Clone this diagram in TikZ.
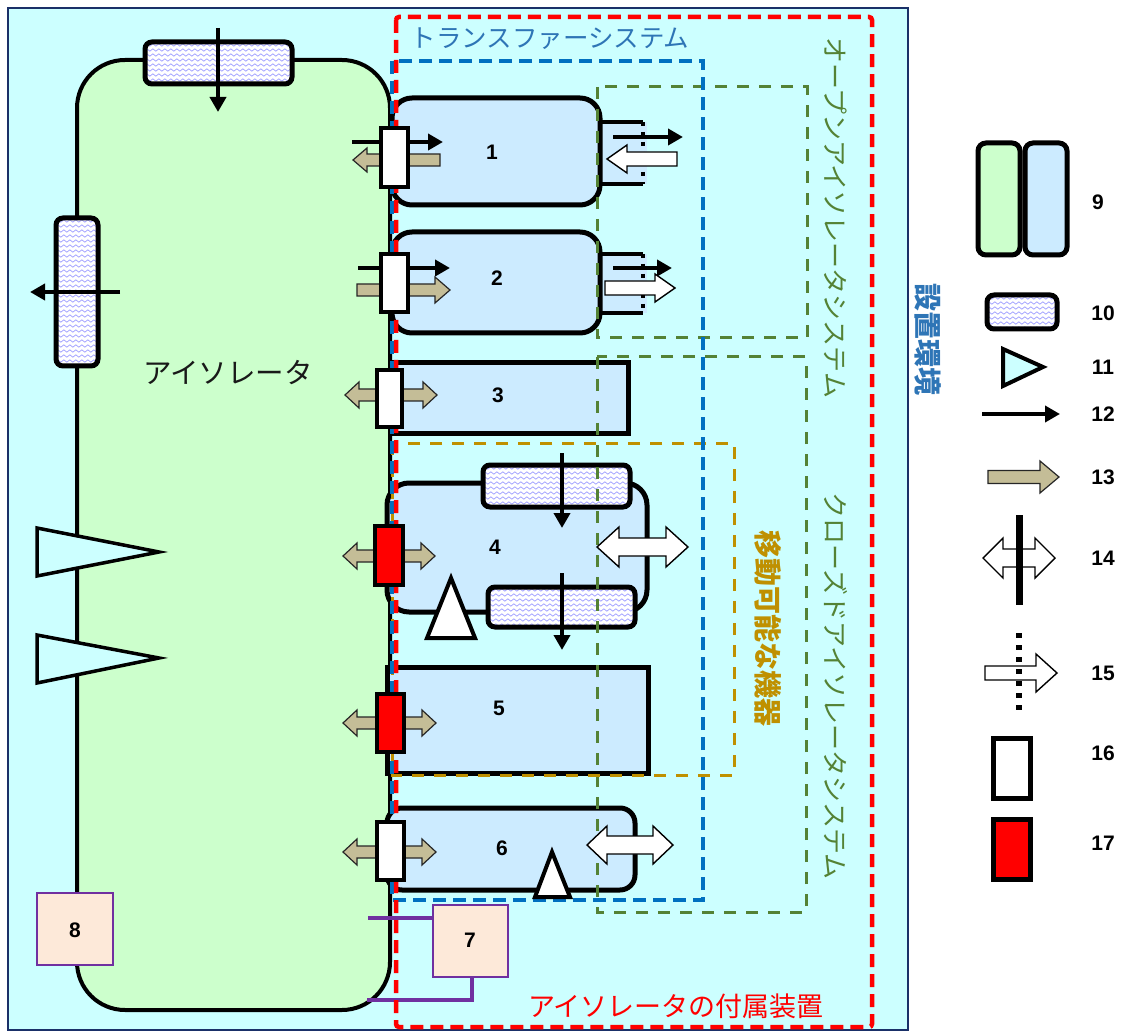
\documentclass[tikz,border=0pt]{standalone}
\usepackage{fontspec}
\setmainfont{Liberation Sans}
\newfontfamily\jp{Noto Sans CJK JP}
\usetikzlibrary{arrows.meta,decorations.pathmorphing}
\definecolor{bgcyan}{HTML}{CCFFFF}
\definecolor{isogreen}{HTML}{CCFFCC}
\definecolor{chblue}{HTML}{CCEBFF}
\definecolor{navyc}{HTML}{1A3068}
\definecolor{dblue}{HTML}{0070C0}
\definecolor{tblue}{HTML}{2E75B6}
\definecolor{dgreen}{HTML}{548235}
\definecolor{goldc}{HTML}{BF9000}
\definecolor{tanc}{HTML}{C4BD97}
\definecolor{purp}{HTML}{7030A0}
\definecolor{peach}{HTML}{FDE9D9}

\tikzset{
  chamber/.style={draw=black, line width=5, fill=chblue},
  doorw/.style={draw=black, line width=4, fill=white},
  doorr/.style={draw=black, line width=4, fill=red},
  blk/.style={draw=black, line width=4, -{Triangle[length=15,width=16]}},
  tanarr/.style={fill=tanc, draw=black!85, line width=1.2},
  whitearr/.style={fill=white, draw=black, line width=1.4},
  wave/.style={draw=blue!45, line width=0.6, decorate, decoration={snake, amplitude=1.2, segment length=6}},
  filtbox/.style={draw=black, line width=5, rounded corners=7},
  tri/.style={draw=black, line width=4, fill=white, line join=miter},
  aux/.style={draw=purp, line width=1.5, fill=peach},
  auxline/.style={draw=purp, line width=3.5},
  reddash/.style={draw=red, line width=4.5, dash pattern=on 13 off 7},
  bluedash/.style={draw=dblue, line width=4.5, dash pattern=on 13 off 7},
  greendash/.style={draw=dgreen, line width=3, dash pattern=on 12 off 10},
  golddash/.style={draw=goldc, line width=3, dash pattern=on 12 off 10},
  num/.style={font=\fontsize{21}{21}\selectfont\bfseries},
  jptext/.style={font=\jp\fontsize{#1}{#1}\selectfont, inner sep=0},
}

\newcommand\BlockArr[7]{%
  \pgfmathsetmacro\bad{(#3>#2)?1:-1}%
  \pgfmathsetmacro\bahx{#3-\bad*#7}%
  \draw[#1] (#2,#4-#5) -- (\bahx,#4-#5) -- (\bahx,#4-#6) -- (#3,#4) -- (\bahx,#4+#6) -- (\bahx,#4+#5) -- (#2,#4+#5) -- cycle;}
\newcommand\DblArr[7]{%
  \draw[#1] (#2,#4) -- (#2+#7,#4-#6) -- (#2+#7,#4-#5) -- (#3-#7,#4-#5) -- (#3-#7,#4-#6) -- (#3,#4) -- (#3-#7,#4+#6) -- (#3-#7,#4+#5) -- (#2+#7,#4+#5) -- (#2+#7,#4+#6) -- cycle;}
\newcommand\FiltBox[4]{%
  \begin{scope}
    \clip[rounded corners=7] (#1,#2) rectangle (#3,#4);
    \fill[white] (#1,#2) rectangle (#3,#4);
    \pgfmathtruncatemacro\fbn{(#4-#2)/5}%
    \foreach \k in {0,...,\fbn}{\draw[wave] (#1-6,#2+3+5*\k) -- (#3+6,#2+3+5*\k);}
  \end{scope}
  \draw[filtbox] (#1,#2) rectangle (#3,#4);}

\begin{document}
\begin{tikzpicture}[x=1pt,y=-1pt]
\useasboundingbox (0,0) rectangle (1128,1032);
\fill[white] (0,0) rectangle (1128,1032);
% installation environment
\draw[draw=navyc, line width=2.5, fill=bgcyan] (8,8) rectangle (908,1030);

% isolator
\draw[line width=4, fill=isogreen, rounded corners=48] (77,60) rectangle (390,1010);
\FiltBox{145}{42}{292}{84}
\coordinate (ft1) at (218,28); \coordinate (ft2) at (218,112);
\draw[blk] (ft1) -- (ft2);
\FiltBox{56}{218}{98}{366}
\coordinate (fl1) at (120,292); \coordinate (fl2) at (30,292);
\draw[blk] (fl1) -- (fl2);
\draw[tri, fill=bgcyan, line width=3.5] (37,528) -- (159,552) -- (37,576) -- cycle;
\draw[tri, fill=bgcyan, line width=3.5] (37,635) -- (159,658) -- (37,683) -- cycle;
\draw[aux] (37,893) rectangle (113,965);
\node[num] (n8) at (75,930) {8};
\node[jptext=28.5, text=black!90] (iso) at (228,373) {アイソレータ};

% chambers
\fill[chblue] (596,122) rectangle (647,184);
\draw[chamber, rounded corners=20] (392,98) rectangle (600,205);
\draw[line width=4] (600,122) -- (643,122);
\draw[line width=4] (600,184) -- (643,184);
\fill[chblue] (596,254) rectangle (647,313);
\draw[chamber, rounded corners=20] (392,232) rectangle (600,333);
\draw[line width=4] (600,254) -- (643,254);
\draw[line width=4] (600,313) -- (643,313);
\draw[chamber] (392,363) rectangle (628,434);
\draw[chamber, rounded corners=22] (387,483) rectangle (647,612);
\FiltBox{483}{465}{630}{507}
\FiltBox{488}{587}{635}{627}
\draw[chamber] (387,667) rectangle (648,773);
\draw[chamber, rounded corners=15] (387,808) rectangle (635,890);

% accessory 7
\draw[auxline] (368,918) -- (433,918);
\draw[auxline] (472,977) -- (472,1000) -- (367,1000);
\draw[aux] (433,905) rectangle (508,977);
\node[num] (n7) at (470,940) {7};

% dashed system boundaries
\draw[greendash] (597,87) rectangle (807,338);
\draw[greendash] (597,357) rectangle (806,912);
\draw[golddash] (392,443) rectangle (734,775);
\draw[bluedash] (392,61) rectangle (703,900);
\draw[reddash, rounded corners=3] (396,17) rectangle (872,1027);

% port dotted edges
\draw[line width=4, dash pattern=on 4 off 6] (643,122) -- (643,184);
\draw[line width=4, dash pattern=on 4 off 6] (643,254) -- (643,313);

% arrows chamber 1
\coordinate (a1s) at (352,142); \coordinate (a1e) at (443,142);
\draw[blk] (a1s) -- (a1e);
\BlockArr{tanarr}{440}{353}{160}{6}{12}{14}
\coordinate (p1s) at (613,137); \coordinate (p1e) at (683,137);
\draw[blk] (p1s) -- (p1e);
\BlockArr{whitearr}{677}{607}{159}{7}{14}{20}
% arrows chamber 2
\coordinate (a2s) at (358,268); \coordinate (a2e) at (450,268);
\draw[blk] (a2s) -- (a2e);
\BlockArr{tanarr}{357}{450}{290}{6}{13}{15}
\coordinate (p2s) at (613,268); \coordinate (p2e) at (672,268);
\draw[blk] (p2s) -- (p2e);
\BlockArr{whitearr}{605}{675}{288}{7}{14}{20}
% chamber 3
\DblArr{tanarr}{345}{437}{395}{6}{13}{14}
% chamber 4
\DblArr{tanarr}{343}{435}{556}{6}{13}{14}
\DblArr{whitearr}{597}{688}{547}{9}{20}{22}
\coordinate (f4a) at (562,453); \coordinate (f4b) at (562,528);
\draw[blk] (f4a) -- (f4b);
\coordinate (f4c) at (562,573); \coordinate (f4d) at (562,650);
\draw[blk] (f4c) -- (f4d);
% chamber 5
\DblArr{tanarr}{343}{436}{723}{6}{13}{14}
% chamber 6
\DblArr{tanarr}{343}{436}{852}{6}{13}{14}
\DblArr{whitearr}{587}{673}{845}{9}{19}{20}

% doors
\draw[doorw] (381,128) rectangle (408,187);
\draw[doorw] (381,254) rectangle (408,312);
\draw[doorw] (377,370) rectangle (402,427);
\draw[doorr] (375,526) rectangle (403,585);
\draw[doorr] (377,694) rectangle (404,752);
\draw[doorw] (377,822) rectangle (404,880);

% triangles in chambers
\draw[tri] (427,638) -- (451,578) -- (475,638) -- cycle;
\draw[tri] (535,897) -- (552,852) -- (570,897) -- cycle;

% chamber labels
\node[num] (n1) at (492,152) {1};
\node[num] (n2) at (497,278) {2};
\node[num] (n3) at (498,395) {3};
\node[num] (n4) at (495,547) {4};
\node[num] (n5) at (499,708) {5};
\node[num] (n6) at (502,848) {6};

% texts
\node[jptext=25.5, text=tblue] (trans) at (550,39) {トランスファーシステム};
\node[jptext=26, text=dgreen, rotate=-90] (open) at (836,218) {オープンアイソレータシステム};
\node[jptext=26, text=dgreen, rotate=-90] (closed) at (836,686) {クローズドアイソレータシステム};
\node[jptext=28, text=goldc, rotate=-90, font=\jp\fontsize{28}{28}\selectfont\bfseries] (mob) at (768,628) {移動可能な機器};
\node[jptext=28, text=tblue, rotate=-90, font=\jp\fontsize{28}{28}\selectfont\bfseries] (env) at (928,340) {設置環境};
\node[jptext=27, text=red] (acc) at (676,1006) {アイソレータの付属装置};

% legend
\draw[line width=5, fill=isogreen, rounded corners=8] (978,143) rectangle (1020,255);
\draw[line width=5, fill=chblue, rounded corners=8] (1025,143) rectangle (1067,255);
\node[num] (l9) at (1098,202) {9};
\FiltBox{987}{295}{1057}{329}
\node[num] (l10) at (1103,313) {10};
\draw[tri, fill=bgcyan] (1003,349) -- (1043,367) -- (1003,386) -- cycle;
\node[num] (l11) at (1103,367) {11};
\coordinate (l12a) at (982,414); \coordinate (l12b) at (1060,414);
\draw[blk] (l12a) -- (l12b);
\node[num] (l12) at (1103,414) {12};
\BlockArr{tanarr}{988}{1059}{477}{6.5}{16}{19}
\node[num] (l13) at (1103,477) {13};
\DblArr{whitearr}{983}{1055}{558}{9}{20}{20}
\coordinate (l14a) at (1019,515); \coordinate (l14b) at (1019,605);
\draw[line width=7] (l14a) -- (l14b);
\node[num] (l14) at (1103,558) {14};
\BlockArr{whitearr}{985}{1057}{673}{7}{19}{21}
\coordinate (l15a) at (1019,633); \coordinate (l15b) at (1019,716);
\draw[line width=6, dash pattern=on 5 off 7] (l15a) -- (l15b);
\node[num] (l15) at (1103,673) {15};
\draw[doorw, line width=5] (993,738) rectangle (1030,798);
\node[num] (l16) at (1103,753) {16};
\draw[doorr, line width=5] (993,819) rectangle (1030,879);
\node[num] (l17) at (1103,843) {17};
\end{tikzpicture}
\end{document}
